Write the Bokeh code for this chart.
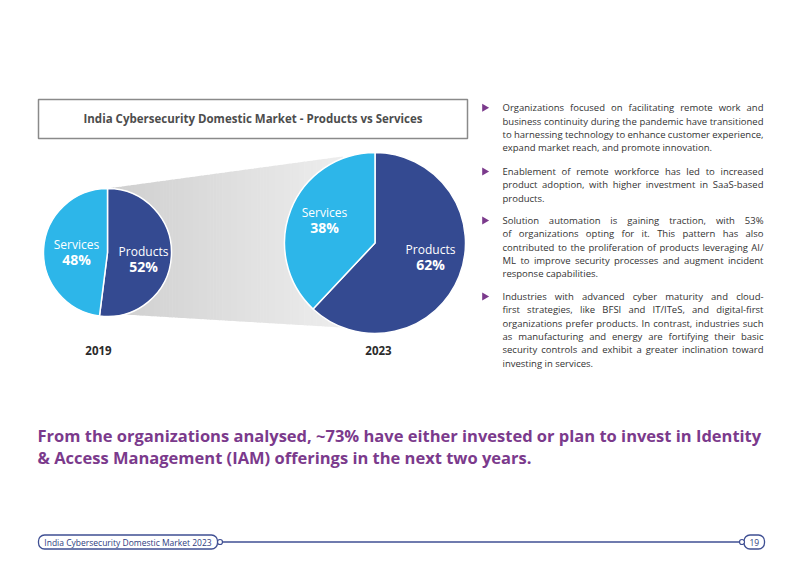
import numpy as np
from bokeh.plotting import figure
from bokeh.models import ColumnDataSource, BoxAnnotation, CustomJS
from bokeh.core.properties import value
from bokeh.io import curdoc
from bokeh.embed import file_html
from bokeh.resources import INLINE

# ---- data -------------------------------------------------------------
years = ["2019", "2023"]
segments = ["Products", "Services"]
products_share = [52, 62]
services_share = [48, 38]

title = "India Cybersecurity Domestic Market - Products vs Services"
bullets = [
    ["Organizations focused on facilitating remote work and",
     "business continuity during the pandemic have transitioned",
     "to harnessing technology to enhance customer experience,",
     "expand market reach, and promote innovation."],
    ["Enablement of remote workforce has led to increased",
     "product adoption, with higher investment in SaaS-based",
     "products."],
    ["Solution automation is gaining traction, with 53%",
     "of organizations opting for it. This pattern has also",
     "contributed to the proliferation of products leveraging AI/",
     "ML to improve security processes and augment incident",
     "response capabilities."],
    ["Industries with advanced cyber maturity and cloud-",
     "first strategies, like BFSI and IT/ITeS, and digital-first",
     "organizations prefer products. In contrast, industries such",
     "as manufacturing and energy are fortifying their basic",
     "security controls and exhibit a greater inclination toward",
     "investing in services."],
]
headline = ["From the organizations analysed, ~73% have either invested or plan to invest in Identity",
            "& Access Management (IAM) offerings in the next two years."]
footer_text = "India Cybersecurity Domestic Market 2023"
page_no = "19"

# ---- style ------------------------------------------------------------
W, H = 800, 567
FONT = value("Open Sans")
C_PROD = "#344a91"
C_SERV = "#2db6e9"
C_PURPLE = "#7b3a8c"
C_TEXT = "#333333"
C_NAVY = "#3f4f93"

# Open Sans advance widths (per 2048 em units) for the initial word layout;
# the browser refines the positions with real measurements once ready
ADV = dict(zip("abcdefghijklmnopqrstuvwxyz",
               [1139, 1255, 975, 1255, 1149, 694, 1122, 1257, 518, 518, 1075, 518, 1905,
                1257, 1237, 1255, 1255, 836, 977, 723, 1257, 1026, 1593, 1073, 1028, 930]))
ADV.update(dict(zip("ABCDEFGHIJKLMNOPQRSTUVWXYZ",
                    [1296, 1327, 1292, 1493, 1139, 1057, 1491, 1511, 571, 547, 1257, 1063, 1849,
                     1544, 1595, 1233, 1595, 1266, 1106, 1118, 1491, 1219, 1896, 1182, 1157, 1154])))
ADV.update({c: 1171 for c in "0123456789"})
ADV.update({" ": 532, ",": 502, ".": 545, "-": 659, "/": 752, "%": 1686, ":": 545})


def text_width(s, size):
    return sum(ADV.get(c, 1100) for c in s) * size / 2048


def Y(y):
    # page coordinates are measured from the top
    return H - y


p = figure(width=W, height=H, x_range=(0, W), y_range=(0, H),
           x_axis_type=None, y_axis_type=None, toolbar_location=None,
           output_backend="svg", min_border=0)
p.grid.visible = False
p.outline_line_color = None
p.background_fill_color = "white"
p.border_fill_color = "white"

# ---- pies layout ------------------------------------------------------
cx = [107, 374.5]
cy = [252, 242.5]
rad = [64, 90.5]

# funnel between the two pies, shaded from darker to lighter
x0, x1 = 107, 342
top0, top1 = 188, 156
bot0, bot1 = 313, 327
n = 80
xs_edges = np.linspace(x0, x1, n + 1)
shade = np.linspace(0.81, 0.93, n)
polys_x, polys_y, cols = [], [], []
for i in range(n):
    a, b = xs_edges[i], xs_edges[i + 1] + 0.6
    ta = top0 + (top1 - top0) * (a - x0) / (x1 - x0)
    tb = top0 + (top1 - top0) * (b - x0) / (x1 - x0)
    ba = bot0 + (bot1 - bot0) * (a - x0) / (x1 - x0)
    bb = bot0 + (bot1 - bot0) * (b - x0) / (x1 - x0)
    polys_x.append([a, b, b, a])
    polys_y.append([Y(ta), Y(tb), Y(bb), Y(ba)])
    g = int(round(shade[i] * 255))
    cols.append("#%02x%02x%02x" % (g, g, g))
p.patches(polys_x, polys_y, fill_color=cols, line_color=None)

# wedges: products clockwise from 12 o'clock, services the remainder
start_p, end_p, start_s, end_s = [], [], [], []
for ps in products_share:
    a = np.pi / 2
    b = a - 2 * np.pi * ps / 100
    start_p.append(a)
    end_p.append(b)
    start_s.append(b)
    end_s.append(a - 2 * np.pi)
src = ColumnDataSource(dict(
    x=cx + cx, y=[Y(v) for v in cy] * 2, r=rad + rad,
    start=start_p + start_s, end=end_p + end_s,
    color=[C_PROD] * 2 + [C_SERV] * 2))
p.wedge(x="x", y="y", radius="r", start_angle="start", end_angle="end",
        direction="clock", fill_color="color", line_color="white",
        line_width=1.5, source=src)

# slice labels
lab_pos = {
    ("2019", "Products"): (143, 251),
    ("2019", "Services"): (76, 244),
    ("2023", "Products"): (430, 249),
    ("2023", "Services"): (324, 212),
}
shares = {"Products": products_share, "Services": services_share}
for i, yr in enumerate(years):
    for seg in segments:
        lx, ly = lab_pos[(yr, seg)]
        p.text([lx], [Y(ly)], text=[seg], text_font=FONT, text_font_size="12px",
               text_color="white", text_align="center", text_baseline="middle")
        p.text([lx], [Y(ly + 14.5)], text=[f"{shares[seg][i]}%"], text_font=FONT,
               text_font_size="14px", text_font_style="bold", text_color="white",
               text_align="center", text_baseline="middle")

# year captions
p.text([98, 378], [Y(350), Y(350)], text=years, text_font=FONT, text_font_size="11.5px",
       text_font_style="bold", text_color="#2b2b2b", text_align="center",
       text_baseline="middle")

# ---- title box --------------------------------------------------------
p.add_layout(BoxAnnotation(left=38, right=467, bottom=Y(138), top=Y(99),
                           fill_color="white", fill_alpha=1, line_color="#8a8a8a",
                           line_alpha=1, line_width=1.5, level="underlay"))
p.text([252.5], [Y(118)], text=[title], text_font=FONT, text_font_size="11.5px",
       text_font_style="bold", text_color="#4d4d4d", text_align="center",
       text_baseline="middle")

# ---- bullet list (justified, last line of each paragraph ragged) -----
FS = 9.5
left_x, right_x = 502, 763
para_top = [107.3, 171, 220, 296]
line_gap = 13.3
bx, by = [], []
wx, wy, wt, wline, wjust = [], [], [], [], []
line_id = 0
for top, lines in zip(para_top, bullets):
    bx.append(484)
    by.append(Y(top))
    for k, ln in enumerate(lines):
        yy = Y(top + k * line_gap)
        words = ln.split(" ")
        if k == len(lines) - 1 or len(words) < 2:
            wx.append(left_x); wy.append(yy); wt.append(ln)
            wline.append(line_id); wjust.append(0)
        else:
            widths = [text_width(w, FS) for w in words]
            gap = (right_x - left_x - sum(widths)) / (len(words) - 1)
            xpos = left_x
            for w, wd in zip(words, widths):
                wx.append(xpos); wy.append(yy); wt.append(w)
                wline.append(line_id); wjust.append(1)
                xpos += wd + gap
        line_id += 1
words_src = ColumnDataSource(dict(x=wx, y=wy, text=wt, line=wline, just=wjust))

p.scatter(bx, by, marker="triangle", size=8, angle=-np.pi / 2,
          fill_color=C_PURPLE, line_color=None)
p.text(x="x", y="y", text="text", source=words_src, text_font=FONT,
       text_font_size=f"{FS}px", text_color=C_TEXT, text_align="left",
       text_baseline="middle")

# spread the words of each justified line to the full column width
justify = CustomJS(args=dict(src=words_src, left=left_x, right=right_x, size=FS), code="""
const NS = 'http://www.w3.org/2000/svg';
const svg = document.createElementNS(NS, 'svg');
svg.setAttribute('width', '600'); svg.setAttribute('height', '50');
svg.style.position = 'absolute'; svg.style.left = '0px'; svg.style.top = '0px';
svg.style.visibility = 'hidden';
document.body.appendChild(svg);
const t = document.createElementNS(NS, 'text');
t.setAttribute('x', '0'); t.setAttribute('y', '20');
t.style.font = 'normal ' + size + 'px "Open Sans"';
svg.appendChild(t);
const measure = (s) => { t.textContent = s; return t.getComputedTextLength(); };
const d = src.data;
const x = Array.from(d.x);
const groups = new Map();
for (let i = 0; i < d.text.length; i++) {
  if (!d.just[i]) continue;
  if (!groups.has(d.line[i])) groups.set(d.line[i], []);
  groups.get(d.line[i]).push(i);
}
for (const idx of groups.values()) {
  const w = idx.map(i => measure(d.text[i]));
  const tot = w.reduce((a, b) => a + b, 0);
  const gap = (right - left - tot) / Math.max(idx.length - 1, 1);
  let pos = left;
  idx.forEach((i, j) => { x[i] = pos; pos += w[j] + gap; });
}
svg.remove();
src.data = Object.assign({}, d, {x: x});
""")

# ---- headline ---------------------------------------------------------
p.text([37, 37], [Y(435), Y(457)], text=headline, text_font=FONT,
       text_font_size="16.5px", text_font_style="bold", text_color=C_PURPLE,
       text_align="left", text_baseline="middle")

# ---- footer -----------------------------------------------------------
p.line([220, 741], [Y(541.5), Y(541.5)], line_color=C_NAVY, line_width=1.5)
for l_, r_ in [(38, 217), (743.5, 764)]:
    p.add_layout(BoxAnnotation(left=l_, right=r_, bottom=Y(548.5), top=Y(534.5),
                               fill_color="white", fill_alpha=1, line_color=C_NAVY,
                               line_alpha=1, line_width=1.3, border_radius=6,
                               level="underlay"))
p.scatter([219.5, 741.5], [Y(541.5), Y(541.5)], marker="circle", size=5,
          fill_color="white", line_color=C_NAVY, line_width=1.2)
p.text([127.5, 753.8], [Y(541.8), Y(541.8)], text=[footer_text, page_no], text_font=FONT,
       text_font_size="8.5px", text_color="#2f3d80", text_align="center",
       text_baseline="middle")

doc = curdoc()
doc.add_root(p)
doc.js_on_event("document_ready", justify)

open("out.html", "w").write(file_html(p, INLINE))
